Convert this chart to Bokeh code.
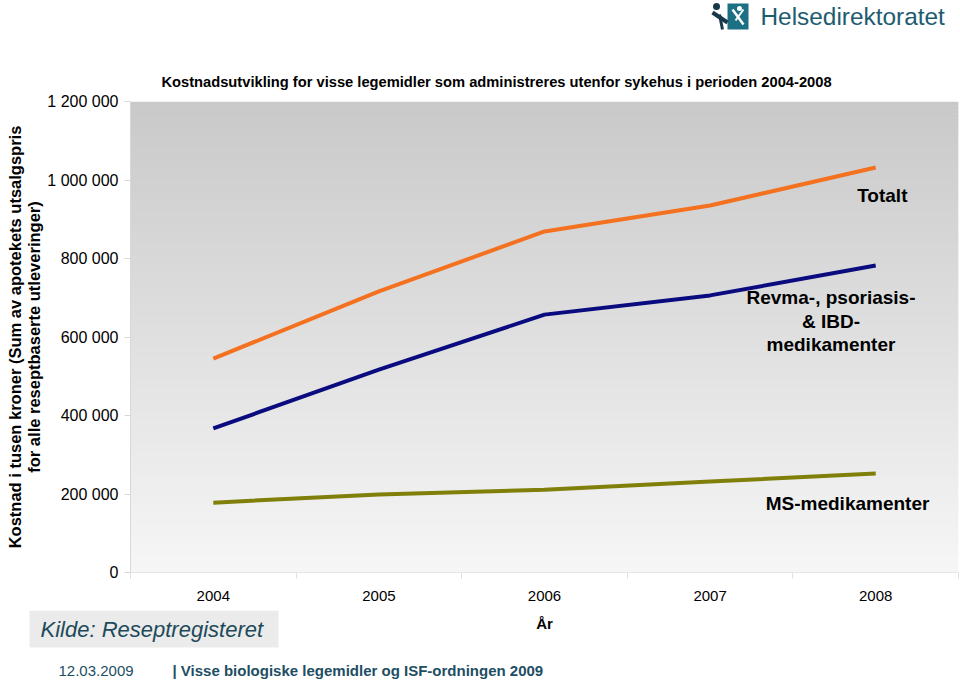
import numpy as np
from bokeh.plotting import figure
from bokeh.layouts import column
from bokeh.models import FixedTicker, Range1d
from bokeh.core.properties import value
from bokeh.embed import file_html
from bokeh.resources import INLINE

# ---- data ----
years = ["2004", "2005", "2006", "2007", "2008"]
totalt = [545000, 716000, 869000, 935000, 1032000]
revma = [367000, 517000, 657000, 706000, 782000]
ms = [178000, 199000, 211000, 232000, 252000]
y_ticks = [0, 200000, 400000, 600000, 800000, 1000000, 1200000]
y_tick_labels = ["0", "200 000", "400 000", "600 000", "800 000", "1 000 000", "1 200 000"]

W = 960
HEAD_H, MAIN_H, FOOT_H = 90, 520, 71
FL, FR = 130, 958
FT, FB = 101, 572  # frame top/bottom in page px
FONT = "Liberation Sans"
TEAL = "#1d4e63"


def blank(h):
    f = figure(width=W, height=h, output_backend="svg", toolbar_location=None,
               x_range=Range1d(0, W), y_range=Range1d(h, 0),
               x_axis_location=None, y_axis_location=None,
               min_border=0, min_border_left=0, min_border_right=0,
               min_border_top=0, min_border_bottom=0, frame_align=False)
    f.outline_line_color = None
    f.xgrid.visible = False
    f.ygrid.visible = False
    f.background_fill_color = "white"
    f.border_fill_color = "white"
    return f


def txt(f, x, y, s, size, style="normal", color="black", align="center", angle=0):
    f.text(x=[x], y=[y], text=[s], text_font=value(FONT), text_font_size=size,
           text_font_style=style, text_color=color, text_align=align,
           text_baseline="middle", angle=angle)


# ---------------- header ----------------
head = blank(HEAD_H)
# logo
head.quad(left=[727], right=[748], top=[3], bottom=[29], fill_color="#1b7084", line_color=None)
head.line(x=[732, 743], y=[9, 24], line_color="white", line_width=2.5)
head.line(x=[743, 735], y=[9, 20], line_color="white", line_width=2)
head.scatter(x=[739], y=[8], size=5, fill_color="white", line_color=None)
head.scatter(x=[716], y=[6], size=7, fill_color="#17384a", line_color=None)
head.line(x=[712, 727], y=[12, 22], line_color="#17384a", line_width=4)
head.line(x=[719, 722], y=[14, 29], line_color="#17384a", line_width=3)
txt(head, 760, 16, "Helsedirektoratet", "24.4px", color="#1e5c70", align="left")
# title
txt(head, 496, 81, "Kostnadsutvikling for visse legemidler som administreres utenfor sykehus i perioden 2004-2008",
    "14.7px", style="bold")

# ---------------- main chart ----------------
p = figure(width=W, height=MAIN_H, output_backend="svg", toolbar_location=None,
           x_range=Range1d(0, len(years)), y_range=Range1d(0, 1200000),
           min_border_left=FL, min_border_right=W - FR, min_border_top=FT - HEAD_H,
           min_border_bottom=HEAD_H + MAIN_H - FB, frame_align=False)
p.outline_line_color = None
p.background_fill_color = "white"
p.border_fill_color = "white"
p.xgrid.visible = False
p.ygrid.visible = False

# gradient background (overlapping strips to avoid seams)
n = 120
step = 1200000 / n
bottoms = [i * step for i in range(n)]
tops = [min(1200000, (i + 1.6) * step) for i in range(n)]
cols = []
for i in range(n):
    t = (i + 0.5) / n  # 0 bottom -> 1 top
    c = int(round(246 - (246 - 201) * t))
    cols.append("#%02x%02x%02x" % (c, c, c))
p.quad(left=0, right=len(years), bottom=bottoms, top=tops, fill_color=cols, line_color=None)

xs = [i + 0.5 for i in range(len(years))]
p.line(xs, totalt, line_width=4, color="#f4711f")
p.line(xs, revma, line_width=4, color="#0b0b80")
p.line(xs, ms, line_width=4, color="#7f7f0a")

# series labels (data coords)
p.text(x=[4.54], y=[960000], text=["Totalt"], text_font=value(FONT), text_font_size="19px",
       text_font_style="bold", text_align="center", text_baseline="middle")
p.text(x=[4.23], y=[640000], text=["Revma-, psoriasis-\n& IBD-\nmedikamenter"],
       text_font=value(FONT), text_font_size="19px", text_font_style="bold",
       text_align="center", text_baseline="middle", text_line_height=1.12)
p.text(x=[4.33], y=[176000], text=["MS-medikamenter"], text_font=value(FONT),
       text_font_size="19px", text_font_style="bold", text_align="center", text_baseline="middle")

# axes
p.yaxis.ticker = FixedTicker(ticks=y_ticks)
p.yaxis.major_label_overrides = {t: l for t, l in zip(y_ticks, y_tick_labels)}
p.yaxis.axis_line_color = "#d8d8d8"
p.yaxis.major_tick_line_color = "#d8d8d8"
p.yaxis.major_tick_out = 6
p.yaxis.major_tick_in = 0
p.yaxis.minor_tick_line_color = None
p.yaxis.major_label_text_font = FONT
p.yaxis.major_label_text_font_size = "16px"
p.yaxis.major_label_text_color = "black"
p.yaxis.major_label_standoff = 6
p.yaxis.axis_label = "Kostnad i tusen kroner (Sum av apotekets utsalgspris\nfor alle reseptbaserte utleveringer)"
p.yaxis.axis_label_text_font = FONT
p.yaxis.axis_label_text_font_size = "16.5px"
p.yaxis.axis_label_text_font_style = "bold"
p.yaxis.axis_label_text_color = "black"
p.yaxis.axis_label_text_line_height = 1.08
p.yaxis.axis_label_standoff = 1

p.xaxis.ticker = FixedTicker(ticks=xs, minor_ticks=list(range(len(years) + 1)))
p.xaxis.major_label_overrides = {x: y for x, y in zip(xs, years)}
p.xaxis.axis_line_color = "#e6e6e6"
p.xaxis.major_tick_line_color = None
p.xaxis.minor_tick_line_color = "#e0e0e0"
p.xaxis.minor_tick_out = 6
p.xaxis.minor_tick_in = 0
p.xaxis.major_label_text_font = FONT
p.xaxis.major_label_text_font_size = "15px"
p.xaxis.major_label_text_color = "black"
p.xaxis.major_label_standoff = 12

# ---------------- footer ----------------
foot = blank(FOOT_H)
y0 = HEAD_H + MAIN_H
foot.quad(left=[29], right=[278], top=[max(0, 610 - y0)], bottom=[647 - y0], fill_color="#ebebeb", line_color=None)
txt(foot, 40, 629 - y0, "Kilde: Reseptregisteret", "22px", style="italic", color="#1d4a5a", align="left")
txt(foot, 544, 623 - y0, "År", "15px", style="bold")
txt(foot, 58, 670 - y0, "12.03.2009", "15px", color=TEAL, align="left")
txt(foot, 172, 670 - y0, "| Visse biologiske legemidler og ISF-ordningen 2009", "15px", style="bold",
    color=TEAL, align="left")

layout = column(head, p, foot, spacing=0)
open("out.html", "w").write(file_html(layout, INLINE))
